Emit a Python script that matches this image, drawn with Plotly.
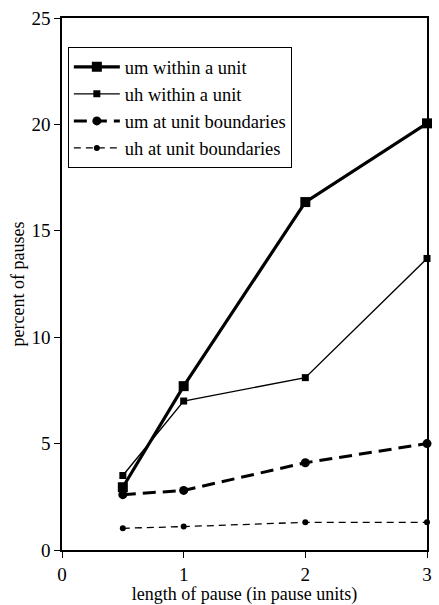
import plotly.graph_objects as go

x_vals = [0.5, 1, 2, 3]
um_within = [2.95, 7.7, 16.35, 20.05]
uh_within = [3.5, 7.0, 8.1, 13.7]
um_bound = [2.6, 2.8, 4.1, 5.0]
uh_bound = [1.02, 1.1, 1.3, 1.3]

names = ["um within a unit", "uh within a unit", "um at unit boundaries", "uh at unit boundaries"]

FAM = "Liberation Serif"

fig = go.Figure()
fig.add_trace(go.Scatter(x=x_vals, y=um_within, name=names[0], mode="lines+markers",
                         line=dict(color="black", width=3.2),
                         marker=dict(symbol="square", size=10, color="black"), cliponaxis=False))
fig.add_trace(go.Scatter(x=x_vals, y=uh_within, name=names[1], mode="lines+markers",
                         line=dict(color="black", width=1.4),
                         marker=dict(symbol="square", size=7, color="black"), cliponaxis=False))
fig.add_trace(go.Scatter(x=x_vals, y=um_bound, name=names[2], mode="lines+markers",
                         line=dict(color="black", width=3, dash="13px,7px"),
                         marker=dict(symbol="circle", size=9, color="black"), cliponaxis=False))
fig.add_trace(go.Scatter(x=x_vals, y=uh_bound, name=names[3], mode="lines+markers",
                         line=dict(color="black", width=1.3, dash="7px,5px"),
                         marker=dict(symbol="circle", size=6, color="black"), cliponaxis=False))

fig.update_layout(
    width=439, height=605,
    margin=dict(l=62, r=7, t=18, b=55),
    paper_bgcolor="white", plot_bgcolor="white",
    font=dict(family=FAM, color="black", size=18),
    showlegend=True,
    legend=dict(x=0.016, y=0.945, xanchor="left", yanchor="top",
                bordercolor="black", borderwidth=1, bgcolor="white",
                font=dict(family=FAM, size=18.5, color="black"),
                tracegroupgap=0, itemwidth=46),
    xaxis=dict(range=[0, 3], tickvals=[0, 1, 2, 3], ticks="outside", ticklen=6,
               tickcolor="black", showline=True, linecolor="black", linewidth=1.5,
               mirror=True, showgrid=False, zeroline=False,
               tickfont=dict(family=FAM, size=19),
               title=dict(text="length of pause (in pause units)", standoff=0,
                          font=dict(family=FAM, size=18))),
    yaxis=dict(range=[0, 25], tickvals=[0, 5, 10, 15, 20, 25], ticks="outside", ticklen=6,
               tickcolor="black", showline=True, linecolor="black", linewidth=1.5,
               mirror=True, showgrid=False, zeroline=False,
               tickfont=dict(family=FAM, size=19),
               title=dict(text="percent of pauses", standoff=2, font=dict(family=FAM, size=18))),
)

fig.write_html("out.html")
